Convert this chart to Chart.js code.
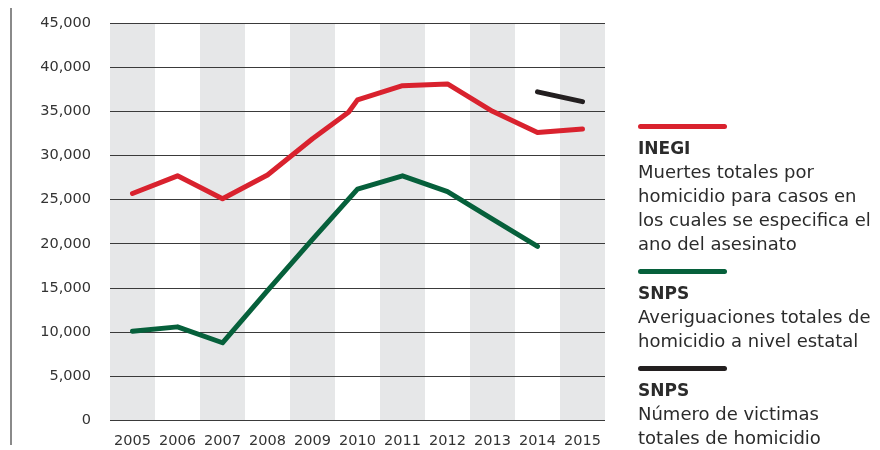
<!DOCTYPE html>
<html>
<head>
<meta charset="utf-8">
<script src="https://cdn.jsdelivr.net/npm/chart.js@4/dist/chart.umd.min.js"></script>
<style>
  body { margin: 0; background: #fff; }
  #wrap { position: relative; width: 880px; height: 450px; }
  #rule { position: absolute; left: 10px; top: 8px; width: 2px; height: 437px; background: #8a8a8a; }
  #legend { position: absolute; left: 638px; top: 124px; font-family: "DejaVu Sans", sans-serif; color: #2b2b2b; }
  .block { margin-bottom: 13.5px; }
  .swatch { width: 89px; height: 5px; border-radius: 3px; margin-bottom: 6.5px; }
  .line { font-size: 18px; line-height: 24px; white-space: nowrap; }
  .title { font-weight: bold; font-size: 17px; }
</style>
</head>
<body>
<div id="wrap">
  <div id="rule"></div>
  <canvas id="chart" width="880" height="450"></canvas>
  <div id="legend"></div>
</div>
<script>
const years = [2005, 2006, 2007, 2008, 2009, 2010, 2011, 2012, 2013, 2014, 2015];

// INEGI has an extra bend just before 2010
const inegiX = [2005, 2006, 2007, 2008, 2009, 2009.8, 2010, 2011, 2012, 2013, 2014, 2015];
const inegiValues = [25700, 27700, 25100, 27800, 31900, 34900, 36300, 37900, 38100, 35000, 32600, 33000];

const snpsX = [2005, 2006, 2007, 2008, 2009, 2010, 2011, 2012, 2013, 2014];
const snpsValues = [10100, 10600, 8800, 14700, 20500, 26200, 27700, 25900, 22800, 19700];

const victX = [2014, 2015];
const victValues = [37200, 36100];

const yTicks = [0, 5000, 10000, 15000, 20000, 25000, 30000, 35000, 40000, 45000];

const legendTitles = ['INEGI', 'SNPS', 'SNPS'];
const legendText = [
  ['Muertes totales por', 'homicidio para casos en', 'los cuales se especifica el', 'ano del asesinato'],
  ['Averiguaciones totales de', 'homicidio a nivel estatal'],
  ['Número de victimas', 'totales de homicidio']
];
const colors = ['#d9222e', '#06603b', '#231f20'];

function pairs(xs, ys) {
  return xs.map((x, i) => ({ x: x, y: ys[i] }));
}

// alternating grey columns behind the grid
const stripes = {
  id: 'stripes',
  beforeDraw(chart) {
    const { ctx, chartArea, scales } = chart;
    ctx.save();
    ctx.fillStyle = '#e6e7e8';
    years.forEach((yr, i) => {
      if (i % 2 !== 0) return;
      const x0 = scales.x.getPixelForValue(yr - 0.5);
      const x1 = scales.x.getPixelForValue(yr + 0.5);
      ctx.fillRect(x0, chartArea.top, x1 - x0, chartArea.bottom - chartArea.top);
    });
    ctx.restore();
  }
};

const lineStyle = { borderWidth: 5, pointRadius: 0, borderCapStyle: 'round', borderJoinStyle: 'round', tension: 0 };

const ctx = document.getElementById('chart').getContext('2d');
const chart = new Chart(ctx, {
  type: 'line',
  data: {
    datasets: [
      Object.assign({ label: legendTitles[0], data: pairs(inegiX, inegiValues), borderColor: colors[0] }, lineStyle),
      Object.assign({ label: legendTitles[1], data: pairs(snpsX, snpsValues), borderColor: colors[1] }, lineStyle),
      Object.assign({ label: legendTitles[2], data: pairs(victX, victValues), borderColor: colors[2] }, lineStyle)
    ]
  },
  options: {
    responsive: false,
    animation: false,
    layout: { padding: { top: 23, right: 275, bottom: 0, left: 0 } },
    plugins: { legend: { display: false }, tooltip: { enabled: false } },
    scales: {
      x: {
        type: 'linear',
        min: 2004.5,
        max: 2015.5,
        afterBuildTicks: s => { s.ticks = years.map(v => ({ value: v })); },
        afterFit: s => { s.height = 29.5; s.paddingLeft = 0; s.paddingRight = 0; },
        grid: { display: false },
        border: { display: false },
        ticks: {
          padding: 4,
          color: '#333',
          font: { family: 'DejaVu Sans', size: 14.5 },
          callback: v => String(v)
        }
      },
      y: {
        min: 0,
        max: 45000,
        afterBuildTicks: s => { s.ticks = yTicks.map(v => ({ value: v })); },
        afterFit: s => { s.width = 110; s.paddingTop = 0; s.paddingBottom = 0; },
        grid: { color: '#3a3a3a', lineWidth: 1, drawTicks: false },
        border: { display: false },
        ticks: {
          padding: 19,
          color: '#333',
          font: { family: 'DejaVu Sans', size: 14.5 },
          callback: v => v.toLocaleString('en-US')
        }
      }
    }
  },
  plugins: [stripes]
});

// legend built from the datasets
const legend = document.getElementById('legend');
chart.data.datasets.forEach((ds, i) => {
  const block = document.createElement('div');
  block.className = 'block';
  const sw = document.createElement('div');
  sw.className = 'swatch';
  sw.style.background = ds.borderColor;
  block.appendChild(sw);
  const t = document.createElement('div');
  t.className = 'line title';
  t.textContent = ds.label;
  block.appendChild(t);
  legendText[i].forEach(txt => {
    const l = document.createElement('div');
    l.className = 'line';
    l.textContent = txt;
    block.appendChild(l);
  });
  legend.appendChild(block);
});
</script>
</body>
</html>
